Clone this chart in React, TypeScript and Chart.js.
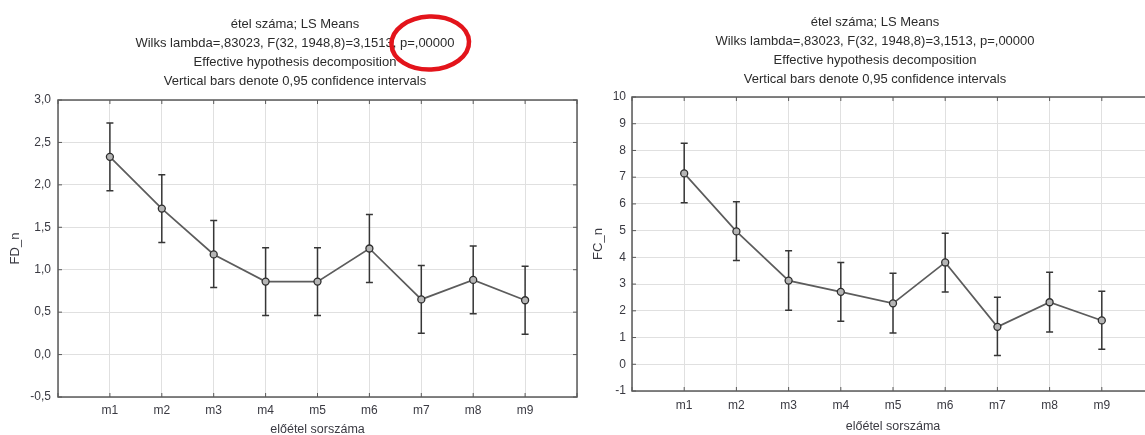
import React, { useEffect, useRef } from 'react';
import { Chart, registerables } from 'chart.js';

Chart.register(...registerables);

// Shared category axis and titles
const categories = ['m1', 'm2', 'm3', 'm4', 'm5', 'm6', 'm7', 'm8', 'm9'];
const titleLines = [
  'étel száma; LS Means',
  'Wilks lambda=,83023, F(32, 1948,8)=3,1513, p=,00000',
  'Effective hypothesis decomposition',
  'Vertical bars denote 0,95 confidence intervals',
];
const xAxisTitle = 'előétel sorszáma';
const highlightText = 'p=,00000';

// FD_n: LS means with 95% confidence limits
const fdMeans = [2.33, 1.72, 1.18, 0.86, 0.86, 1.25, 0.65, 0.88, 0.64];
const fdLower = [1.93, 1.32, 0.79, 0.46, 0.46, 0.85, 0.25, 0.48, 0.24];
const fdUpper = [2.73, 2.12, 1.58, 1.26, 1.26, 1.65, 1.05, 1.28, 1.04];
const fdAxis = [-0.5, 3.0, 0.5];

// FC_n: LS means with 95% confidence limits
const fcMeans = [7.14, 4.97, 3.13, 2.71, 2.28, 3.81, 1.4, 2.32, 1.64];
const fcLower = [6.04, 3.88, 2.02, 1.61, 1.17, 2.7, 0.33, 1.21, 0.56];
const fcUpper = [8.27, 6.08, 4.25, 3.81, 3.41, 4.9, 2.51, 3.44, 2.73];
const fcAxis = [-1, 10, 1];

const FONT = "'Liberation Sans', Arial, Helvetica, sans-serif";
const TITLE_LINE = 19;

// Draws confidence-interval whiskers, the closed plot frame with inward ticks,
// and an optional red ring around a part of the second title line.
const statFrame = {
  id: 'statFrame',
  beforeDatasetsDraw(chart: any, _args: any, opts: any) {
    const { ctx, chartArea: a } = chart;
    const xs = chart.scales.x;
    const ys = chart.scales.y;
    ctx.save();

    ctx.strokeStyle = '#5a5a5a';
    ctx.lineWidth = 1.5;
    ctx.strokeRect(a.left, a.top, a.right - a.left, a.bottom - a.top);

    ctx.lineWidth = 1;
    const tl = 4;
    ctx.beginPath();
    xs.ticks.forEach((t: any) => {
      const px = xs.getPixelForValue(t.value);
      ctx.moveTo(px, a.bottom);
      ctx.lineTo(px, a.bottom - tl);
      ctx.moveTo(px, a.top);
      ctx.lineTo(px, a.top + tl);
    });
    ys.ticks.forEach((t: any) => {
      const py = ys.getPixelForValue(t.value);
      ctx.moveTo(a.left, py);
      ctx.lineTo(a.left + tl, py);
      ctx.moveTo(a.right, py);
      ctx.lineTo(a.right - tl, py);
    });
    ctx.stroke();

    const lower: number[] = opts.lower || [];
    const upper: number[] = opts.upper || [];
    ctx.strokeStyle = '#363636';
    ctx.lineWidth = 1.5;
    const cap = 3.5;
    ctx.beginPath();
    lower.forEach((lo, i) => {
      const px = xs.getPixelForValue(i + 1);
      const pLo = ys.getPixelForValue(lo);
      const pHi = ys.getPixelForValue(upper[i]);
      ctx.moveTo(px, pLo);
      ctx.lineTo(px, pHi);
      ctx.moveTo(px - cap, pLo);
      ctx.lineTo(px + cap, pLo);
      ctx.moveTo(px - cap, pHi);
      ctx.lineTo(px + cap, pHi);
    });
    ctx.stroke();
    ctx.restore();
  },
  afterDraw(chart: any, _args: any, opts: any) {
    if (!opts.highlight) return;
    const { ctx } = chart;
    const tOpts = chart.options.plugins.title;
    const line = titleLines[1];
    const idx = line.indexOf(highlightText);
    if (idx < 0) return;
    const tb = chart.titleBlock;
    const centerX = tb ? (tb.left + tb.right) / 2 : chart.width / 2;
    const top = tb ? tb.top : 0;
    ctx.save();
    ctx.font = `${tOpts.font.size}px ${FONT}`;
    const full = ctx.measureText(line).width;
    const pre = ctx.measureText(line.slice(0, idx)).width;
    const sub = ctx.measureText(highlightText).width;
    const cx = centerX - full / 2 + pre + sub / 2 + 3;
    const cy = top + tOpts.padding.top + TITLE_LINE * 1.5;
    ctx.strokeStyle = '#e3141b';
    ctx.lineWidth = 4.5;
    ctx.beginPath();
    ctx.ellipse(cx, cy, sub / 2 + 11.5, 26.5, -0.04, 0, Math.PI * 2);
    ctx.stroke();
    ctx.restore();
  },
};

type PanelProps = {
  left: number;
  width: number;
  height: number;
  means: number[];
  lower: number[];
  upper: number[];
  axis: number[];
  decimals: number;
  yTitle: string;
  yWidth: number;
  yTickPad: number;
  yTitlePad: number;
  padSide: number;
  titlePad: { top: number; bottom: number };
  xHeight: number;
  xTickPad: number;
  xTitlePad: number;
  highlight?: boolean;
};

function Panel(p: PanelProps) {
  const ref = useRef<HTMLCanvasElement>(null);

  useEffect(() => {
    if (!ref.current) return;
    const points = p.means.map((v, i) => ({ x: i + 1, y: v }));
    const tickColor = '#3a3a42';
    const chart = new Chart(ref.current, {
      type: 'scatter',
      data: {
        datasets: [
          {
            data: points,
            showLine: true,
            borderColor: '#5c5c5c',
            borderWidth: 1.7,
            pointRadius: 3.5,
            pointBorderWidth: 1.3,
            pointBorderColor: '#2e2e2e',
            pointBackgroundColor: '#b5b5b5',
            tension: 0,
          },
        ],
      },
      options: {
        animation: false,
        responsive: false,
        layout: { padding: { left: p.padSide, right: p.padSide, top: 0, bottom: 0 } },
        plugins: {
          legend: { display: false },
          tooltip: { enabled: false },
          title: {
            display: true,
            text: titleLines,
            color: '#2b2b2b',
            font: { family: FONT, size: 13, weight: 'normal', lineHeight: `${TITLE_LINE}px` },
            padding: p.titlePad,
          },
          statFrame: { lower: p.lower, upper: p.upper, highlight: !!p.highlight },
        } as any,
        scales: {
          x: {
            type: 'linear',
            min: 0,
            max: categories.length + 1,
            afterFit: (s: any) => {
              s.height = p.xHeight;
            },
            grid: { color: '#e0e0e0', lineWidth: 1, drawTicks: false },
            border: { display: false },
            ticks: {
              stepSize: 1,
              autoSkip: false,
              maxRotation: 0,
              padding: p.xTickPad,
              color: tickColor,
              font: { family: FONT, size: 12 },
              callback: (v: any) => {
                const n = Math.round(Number(v));
                return n >= 1 && n <= categories.length ? categories[n - 1] : '';
              },
            },
            title: {
              display: true,
              text: xAxisTitle,
              color: tickColor,
              font: { family: FONT, size: 12.5 },
              padding: { top: 0, bottom: p.xTitlePad },
            },
          },
          y: {
            type: 'linear',
            min: p.axis[0],
            max: p.axis[1],
            afterFit: (s: any) => {
              s.width = p.yWidth;
            },
            grid: { color: '#e0e0e0', lineWidth: 1, drawTicks: false },
            border: { display: false },
            ticks: {
              stepSize: p.axis[2],
              padding: p.yTickPad,
              color: tickColor,
              font: { family: FONT, size: 12 },
              callback: (v: any) => Number(v).toFixed(p.decimals).replace('.', ','),
            },
            title: {
              display: true,
              text: p.yTitle,
              color: tickColor,
              font: { family: FONT, size: 13 },
              padding: { top: p.yTitlePad, bottom: 0 },
            },
          },
        },
      },
      plugins: [statFrame as any],
    });
    return () => chart.destroy();
  }, []);

  return (
    <canvas
      ref={ref}
      width={p.width}
      height={p.height}
      style={{ position: 'absolute', left: p.left, top: 0, width: p.width, height: p.height }}
    />
  );
}

export default function App() {
  return (
    <div
      style={{
        position: 'fixed',
        left: 0,
        top: 0,
        width: 1145,
        height: 435,
        overflow: 'hidden',
        background: '#ffffff',
      }}
    >
      <Panel
        left={0}
        width={590}
        height={440}
        means={fdMeans}
        lower={fdLower}
        upper={fdUpper}
        axis={fdAxis}
        decimals={1}
        yTitle="FD_n"
        yWidth={45}
        yTickPad={7}
        yTitlePad={-5.8}
        padSide={13}
        titlePad={{ top: 14.5, bottom: 9.5 }}
        xHeight={43}
        xTickPad={6}
        xTitlePad={2.5}
        highlight
      />
      <Panel
        left={580}
        width={590}
        height={435}
        means={fcMeans}
        lower={fcLower}
        upper={fcUpper}
        axis={fcAxis}
        decimals={0}
        yTitle="FC_n"
        yWidth={36}
        yTickPad={6}
        yTitlePad={-5.8}
        padSide={16}
        titlePad={{ top: 12.5, bottom: 8.5 }}
        xHeight={44}
        xTickPad={7}
        xTitlePad={0.8}
      />
    </div>
  );
}
